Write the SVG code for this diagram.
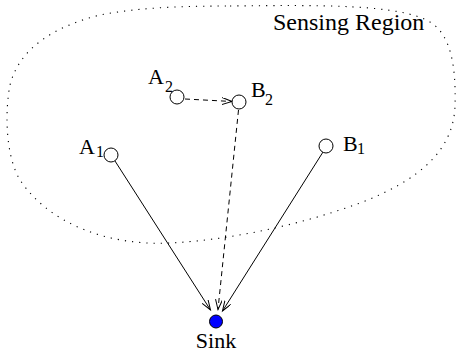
<svg xmlns="http://www.w3.org/2000/svg" width="458" height="353" viewBox="0 0 458 353">
<style>
.lbl{font-size:22px}
.sub{font-size:16px}
.node{fill:#fff;stroke:#000;stroke-width:1}
.edge{fill:none;stroke:#000;stroke-width:1}
.dash{stroke-dasharray:5,4}
</style>
<defs>
<marker id="arr" markerUnits="userSpaceOnUse" markerWidth="12" markerHeight="9" refX="10" refY="3.5" orient="auto" viewBox="0 0 12 9">
<path d="M0,0 L10,3.5 L0,7" fill="none" stroke="#000" stroke-width="1"/>
</marker>
</defs>
<g font-family="'Liberation Serif', 'DejaVu Serif', 'Times New Roman', serif" fill="#000">
<g id="region">
<path d="M230,6 C320,5 400,4 430,22 C452,35 456,70 455,105 C454,150 420,180 360,203 C300,225 230,240 170,243 C110,246 50,225 20,180 C5,155 5,110 10,85 C20,45 60,25 100,15 C140,7 190,6 230,6 Z" fill="none" stroke="#000" stroke-width="1.1" stroke-dasharray="1.2,6"/>
<text x="273" y="30" font-size="24">Sensing Region</text>
</g>
<g id="connectors">
<line class="edge dash" x1="185" y1="99" x2="232" y2="101.5" marker-end="url(#arr)"/>
<line class="edge" x1="115" y1="161" x2="210.5" y2="310" marker-end="url(#arr)"/>
<line class="edge dash" x1="238.5" y1="110" x2="218" y2="309.5" marker-end="url(#arr)"/>
<line class="edge" x1="323" y1="152" x2="222.5" y2="311" marker-end="url(#arr)"/>
</g>
<g id="A2">
<circle class="node" cx="177" cy="97" r="7"/>
<text class="lbl" x="148" y="84">A</text><text class="sub" x="165" y="92">2</text>
</g>
<g id="B2">
<circle class="node" cx="239" cy="102" r="7"/>
<text class="lbl" x="251" y="97">B</text><text class="sub" x="265" y="105">2</text>
</g>
<g id="A1">
<circle class="node" cx="111" cy="155" r="7"/>
<text class="lbl" x="79" y="154">A</text><text class="sub" x="96" y="157">1</text>
</g>
<g id="B1">
<circle class="node" cx="326" cy="146" r="7"/>
<text class="lbl" x="343" y="151">B</text><text class="sub" x="357" y="154">1</text>
</g>
<g id="Sink">
<circle cx="216" cy="321.5" r="6.5" fill="#0000ff" stroke="#000" stroke-width="1"/>
<text class="lbl" x="216" y="348" text-anchor="middle">Sink</text>
</g>
</g>
</svg>
